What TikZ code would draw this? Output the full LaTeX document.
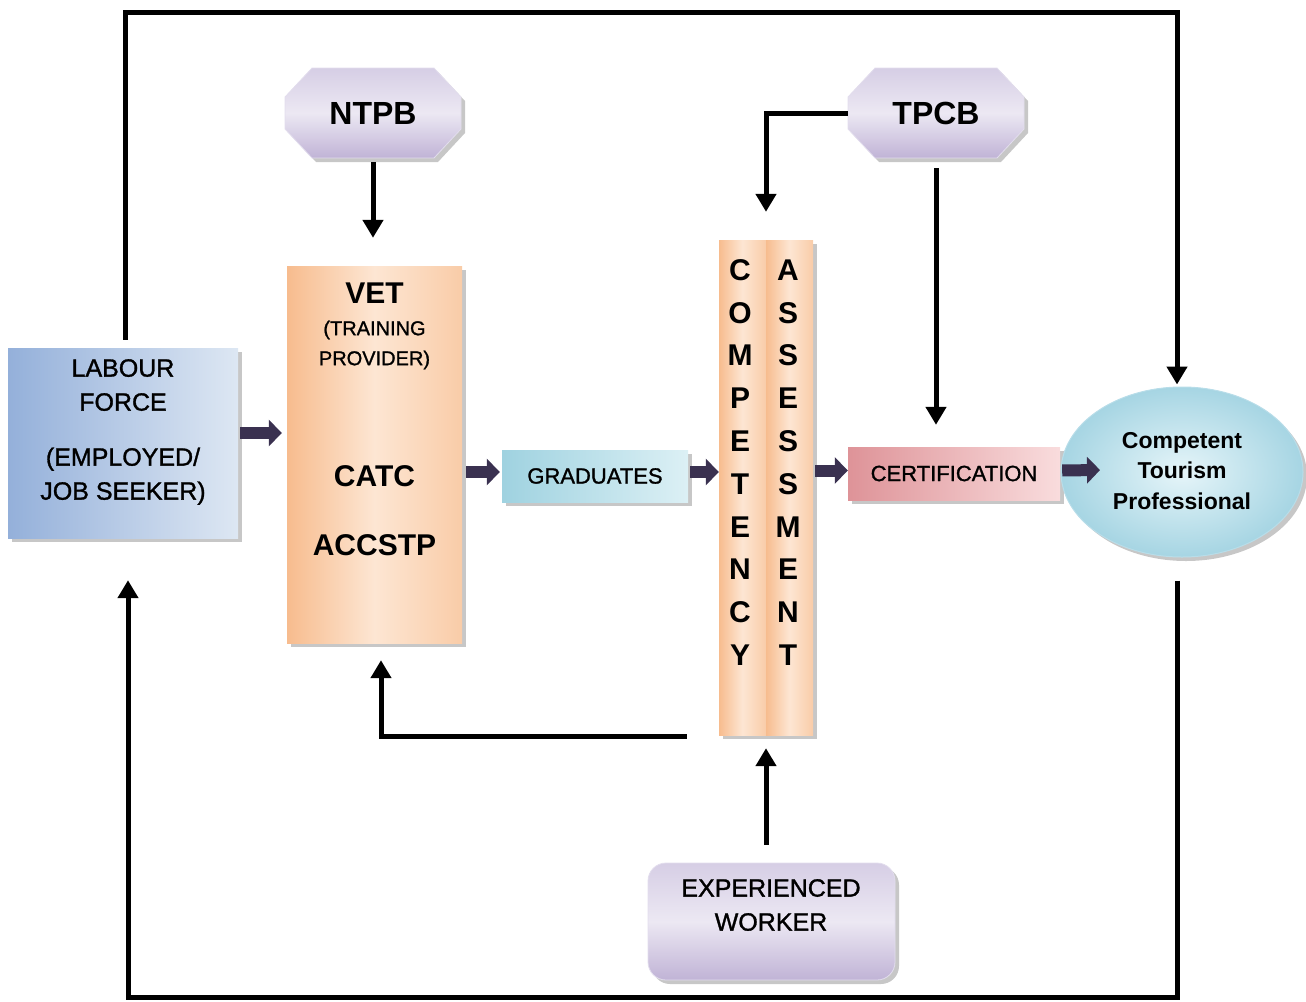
\documentclass[tikz,border=0pt]{standalone}
\usepackage{fontspec}
\setmainfont{Liberation Sans}
\newfontfamily\semib[FakeBold=1.2]{Liberation Sans}
\usetikzlibrary{arrows.meta,shapes.geometric,shadows,calc}
\definecolor{arrowc}{HTML}{3A3150}
\definecolor{labA}{HTML}{94B0DA}
\definecolor{labB}{HTML}{DDE7F3}
\definecolor{vetA}{HTML}{F7BC8E}
\definecolor{vetB}{HTML}{FDE6D3}
\definecolor{vetC}{HTML}{F9CCA8}
\definecolor{gradA}{HTML}{9FD2E0}
\definecolor{gradB}{HTML}{DCF0F5}
\definecolor{certA}{HTML}{DE9398}
\definecolor{certB}{HTML}{F9DCDD}
\definecolor{ctpA}{HTML}{E6F5F9}
\definecolor{ctpB}{HTML}{A6D5E3}
\definecolor{octA}{HTML}{D6CEE5}
\definecolor{octB}{HTML}{C0B3D6}
\definecolor{octC}{HTML}{ECE8F3}
\newcommand\fs[2]{\fontsize{#1}{#2}\selectfont}
\newcommand\octanode[4]{%
  \path[octa] (#2-61,#3-45) -- (#2+61,#3-45) -- (#2+88,#3-16) -- (#2+88,#3+16)
    -- (#2+61,#3+45) -- (#2-61,#3+45) -- (#2-88,#3+16) -- (#2-88,#3-16) -- cycle;
  \node[lbl,minimum width=176pt,minimum height=90pt,font=\bfseries\fs{32}{36}] (#1) at (#2,#3) {#4};}
\begin{document}
\begin{tikzpicture}[x=1pt,y=-1pt,
  shd/.style={drop shadow={shadow xshift=4pt,shadow yshift=-4pt,fill=black,opacity=.22}},
  octa/.style={shd,top color=octA,bottom color=octB,middle color=octC,draw=octA!70!white,line width=0.8pt},
  lbl/.style={inner sep=0pt,align=center,text=black},
  boxn/.style={inner sep=0pt,align=center,text=black},
  conn/.style={line width=5pt,draw=black,-{Triangle[length=18pt,width=20pt]}},
  blk/.style={draw=arrowc,line width=12pt,-{Triangle[length=13pt,width=26pt]}},
  letter/.style={inner sep=0pt,font=\bfseries\fs{30}{30}}
]
\useasboundingbox (0,0) rectangle (1306,1001);

% --- boxes ---
\node[boxn,shd,minimum width=230pt,minimum height=190pt,left color=labA,right color=labB] (labour) at (123,443) {};
\node[lbl,font=\semib\fs{25}{34}] (labtxt) at (123,432) {LABOUR\\FORCE\\[21pt](EMPLOYED/\\JOB SEEKER)};

\node[boxn,shd,minimum width=175pt,minimum height=377pt,left color=vetA,right color=vetC,middle color=vetB] (vet) at (374.5,454.5) {};
\node[lbl,font=\bfseries\fs{30}{30}] (vettitle) at (374.5,293) {VET};
\node[lbl,font=\semib\fs{20}{30}] (vetsub) at (374.5,345) {(TRAINING\\PROVIDER)};
\node[lbl,font=\bfseries\fs{30}{30}] (catc) at (374.5,476) {CATC};
\node[lbl,font=\bfseries\fs{30}{30}] (accstp) at (374.5,545) {ACCSTP};

\node[boxn,shd,minimum width=186pt,minimum height=52pt,left color=gradA,right color=gradB,font=\semib\fs{22}{26}] (grad) at (595,476) {GRADUATES};

\node[boxn,shd,minimum width=47pt,minimum height=495pt,left color=vetA,right color=vetC,middle color=vetB] (comp) at (742.5,487.5) {};
\node[boxn,shd,minimum width=47pt,minimum height=495pt,left color=vetA,right color=vetC,middle color=vetB] (assess) at (789.5,487.5) {};
\node[inner sep=0pt,minimum width=94pt,minimum height=495pt] (ca) at (766,487.5) {};
\foreach \l [count=\i from 0] in {C,O,M,P,E,T,E,N,C,Y}
  \node[letter] (cl\i) at (740,270+42.8*\i) {\l};
\foreach \l [count=\i from 0] in {A,S,S,E,S,S,M,E,N,T}
  \node[letter] (al\i) at (788,270+42.8*\i) {\l};

\node[boxn,shd,minimum width=212pt,minimum height=53pt,left color=certA,right color=certB,font=\semib\fs{22}{26}] (cert) at (954,473.5) {CERTIFICATION};

\node[ellipse,shd,minimum width=242pt,minimum height=170pt,inner color=ctpA,outer color=ctpB,draw=ctpB!80!white,line width=1pt] (ctp) at (1182,472) {};
\node[lbl,font=\bfseries\fs{23}{30.5}] (ctptxt) at (1182,471) {Competent\\Tourism\\Professional};

\octanode{ntpb}{373}{113}{NTPB}
\octanode{tpcb}{936}{113}{TPCB}

\node[boxn,shd,rounded corners=18pt,minimum width=247pt,minimum height=117pt,top color=octA,bottom color=octB,middle color=octC,draw=octA!70!white,line width=0.8pt] (exp) at (771.5,921.5) {};
\node[lbl,font=\semib\fs{25}{34}] (exptxt) at (771,905) {EXPERIENCED\\WORKER};

% --- connectors ---
\coordinate (tl) at (125,12);
\coordinate (tr) at (1177,12);
\coordinate (bl) at (128,997);
\coordinate (br) at (1177,997);

\draw[conn,shorten <=4pt,shorten >=28pt] (ntpb.south) -- (ntpb.south |- vet.north);
\draw[conn,shorten >=28pt] (tpcb.west) -| (ca.north);
\draw[conn,shorten <=10pt,shorten >=22pt] (tpcb.south) -- (tpcb.south |- cert.north);
\draw[conn,shorten <=8pt,shorten >=2pt] (labour.north -| tl) -- (tl) -- (tr) -- (tr |- ctp.north);
\draw[conn,shorten <=23pt,shorten >=42pt] (tr |- ctp.south) -- (br) -- (bl) -- (bl |- labour.south);
\draw[conn,shorten >=17pt] ([xshift=-32pt,yshift=-1.5pt]ca.south west) -| ([xshift=6.5pt]vet.south);
\draw[conn,shorten <=18pt,shorten >=13pt] (exp.north -| ca.south) -- (ca.south);

\draw[blk,shorten <=2pt,shorten >=5pt] ([yshift=10pt]labour.east) -- ([yshift=10pt]labour.east -| vet.west);
\draw[blk,shorten <=4pt,shorten >=2pt] ([yshift=4pt]grad.west -| vet.east) -- ([yshift=4pt]grad.west);
\draw[blk,shorten <=2pt,shorten >=0pt] ([yshift=4pt]grad.east) -- ([yshift=4pt]grad.east -| ca.west);
\draw[blk,shorten <=2pt,shorten >=0pt] ([yshift=3pt]cert.west -| ca.east) -- ([yshift=3pt]cert.west);
\draw[blk,shorten <=2pt,shorten >=82pt] ([yshift=3pt]cert.east) -- ([yshift=3pt]ctp.center);
\end{tikzpicture}
\end{document}
